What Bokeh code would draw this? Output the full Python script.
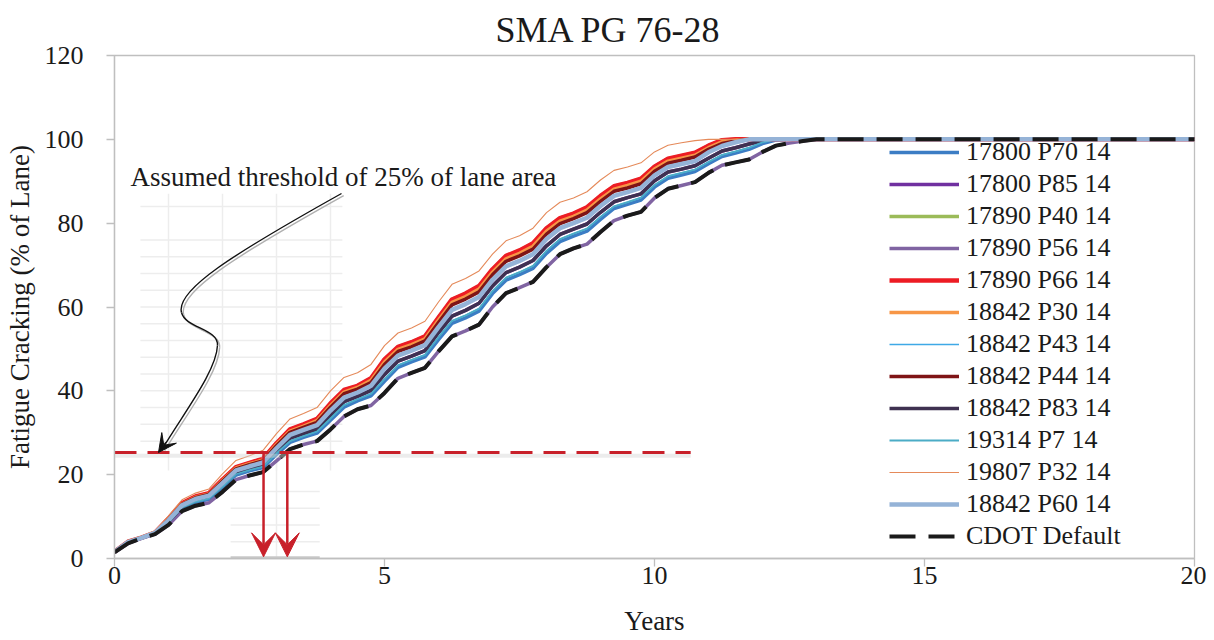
from bokeh.plotting import figure
from bokeh.models import Range1d, FixedTicker, Legend, LegendItem, Label, Arrow, VeeHead
from bokeh.embed import file_html
from bokeh.resources import INLINE

# ---------------- data ----------------
years = [i * 0.25 for i in range(53)] + [20.0]

cdot = [1.5, 3.6, 4.8, 5.8, 8.0, 11.3, 12.6, 13.3, 15.9, 18.8, 19.8, 20.6,
        23.3, 26.1, 27.2, 28.0, 30.8, 33.9, 35.6, 36.5, 39.5, 43.0, 44.3, 45.5,
        49.4, 53.0, 54.3, 55.8, 60.0, 63.3, 64.6, 66.0, 69.5, 72.6, 74.0, 75.0,
        77.9, 80.6, 81.8, 82.7, 86.0, 88.2, 89.0, 89.8, 92.0, 93.8, 94.5, 95.2,
        97.0, 98.5, 99.1, 99.6, 100, 100]
p66 = [1.6, 4.0, 5.0, 6.2, 9.5, 13.2, 14.8, 15.6, 18.8, 21.8, 22.8, 23.8,
       27.5, 30.8, 32.0, 33.3, 37.0, 40.2, 41.2, 43.0, 47.5, 50.5, 51.6, 53.0,
       57.5, 61.8, 63.2, 65.0, 69.0, 72.2, 73.5, 75.2, 78.8, 81.2, 82.3, 83.8,
       86.5, 88.8, 89.6, 90.6, 93.5, 95.4, 96.1, 96.8, 98.5, 99.8, 100, 100,
       100, 100, 100, 100, 100, 100]
p30 = [1.6, 4.0, 5.0, 6.2, 9.4, 13.0, 14.6, 15.4, 18.6, 21.6, 22.6, 23.5,
       27.2, 30.4, 31.6, 32.9, 36.5, 39.7, 40.8, 42.5, 46.9, 49.9, 51.0, 52.4,
       56.9, 61.1, 62.5, 64.3, 68.3, 71.5, 72.8, 74.5, 78.1, 80.5, 81.6, 83.1,
       85.8, 88.1, 89.0, 90.0, 92.9, 94.8, 95.5, 96.2, 98.0, 99.4, 99.8, 100,
       100, 100, 100, 100, 100, 100]
p44 = [1.6, 3.9, 5.0, 6.1, 9.3, 12.9, 14.5, 15.3, 18.4, 21.4, 22.4, 23.3,
       26.9, 30.1, 31.3, 32.5, 36.1, 39.3, 40.4, 42.0, 46.3, 49.4, 50.5, 51.9,
       56.3, 60.5, 61.9, 63.6, 67.7, 70.9, 72.2, 73.8, 77.4, 79.9, 81.1, 82.5,
       85.2, 87.6, 88.4, 89.4, 92.4, 94.3, 95.0, 95.8, 97.6, 99.0, 99.6, 100,
       100, 100, 100, 100, 100, 100]
p60 = [1.6, 3.9, 4.9, 6.1, 9.1, 12.7, 14.2, 15.0, 18.0, 21.0, 22.0, 22.9,
       26.3, 29.5, 30.7, 31.8, 35.3, 38.4, 39.6, 41.2, 45.3, 48.4, 49.6, 50.9,
       55.2, 59.3, 60.7, 62.4, 66.5, 69.7, 71.0, 72.6, 76.2, 78.8, 80.0, 81.3,
       84.1, 86.5, 87.4, 88.4, 91.4, 93.4, 94.1, 94.8, 96.9, 98.4, 99.3, 100,
       100, 100, 100, 100, 100, 100]
p83 = [1.6, 3.8, 4.9, 6.0, 8.8, 12.3, 13.8, 14.6, 17.5, 20.4, 21.4, 22.4,
       25.6, 28.7, 29.8, 30.9, 34.2, 37.4, 38.7, 40.1, 43.9, 47.1, 48.3, 49.6,
       53.9, 57.8, 59.2, 60.9, 65.0, 68.2, 69.5, 71.1, 74.6, 77.3, 78.6, 79.8,
       82.6, 85.1, 86.1, 87.0, 90.1, 92.2, 92.9, 93.7, 95.5, 97.2, 98.0, 98.9,
       99.7, 100, 100, 100, 100, 100]
p70 = [1.5, 3.7, 4.9, 5.9, 8.5, 12.0, 13.4, 14.1, 16.9, 19.9, 20.9, 21.7,
       24.8, 27.7, 28.9, 29.9, 33.0, 36.1, 37.6, 38.8, 42.3, 45.6, 46.9, 48.1,
       52.2, 56.1, 57.4, 59.0, 63.2, 66.4, 67.7, 69.2, 72.8, 75.6, 76.9, 78.1,
       80.9, 83.5, 84.5, 85.5, 88.6, 90.7, 91.5, 92.3, 94.2, 95.9, 96.7, 97.6,
       99.0, 99.8, 100, 100, 100, 100]
p43 = [1.5, 3.7, 4.9, 5.9, 8.6, 12.1, 13.5, 14.3, 17.1, 20.1, 21.1, 21.9,
       25.1, 28.0, 29.2, 30.3, 33.4, 36.6, 38.0, 39.3, 42.8, 46.1, 47.4, 48.6,
       52.8, 56.7, 58.0, 59.6, 63.8, 67.0, 68.3, 69.8, 73.4, 76.2, 77.5, 78.7,
       81.5, 84.0, 85.0, 86.1, 89.1, 91.2, 92.0, 92.8, 94.6, 96.3, 97.1, 98.0,
       99.3, 100, 100, 100, 100, 100]
p32 = [1.6, 4.1, 5.3, 6.6, 10.2, 14.0, 15.6, 16.6, 20.2, 23.4, 24.5, 25.8,
       29.8, 33.3, 34.6, 36.0, 40.0, 43.2, 44.3, 46.3, 50.8, 53.8, 55.0, 56.6,
       61.2, 65.4, 66.8, 68.6, 72.6, 75.8, 77.0, 78.8, 82.5, 85.0, 86.0, 87.5,
       90.3, 92.6, 93.4, 94.4, 97.0, 98.6, 99.2, 99.7, 100, 100, 100, 100,
       100, 100, 100, 100, 100, 100]
p85 = p83
p40 = p66
p56 = cdot
p7 = p43

series_names = ["17800 P70 14", "17800 P85 14", "17890 P40 14", "17890 P56 14",
                "17890 P66 14", "18842 P30 14", "18842 P43 14", "18842 P44 14",
                "18842 P83 14", "19314 P7 14", "19807 P32 14", "18842 P60 14",
                "CDOT Default"]
series_values = [p70, p85, p40, p56, p66, p30, p43, p44, p83, p7, p32, p60, cdot]

threshold = 25.3
threshold_end_year = 10.67
crossing_years = [2.76, 3.20]
x_ticks = [0, 5, 10, 15, 20]
y_ticks = [0, 20, 40, 60, 80, 100, 120]

# ---------------- styles ----------------
styles = [
    ("#3c7dc4", 3.5, "solid"),
    ("#7030a0", 3.5, "solid"),
    ("#9bbb59", 3.5, "solid"),
    ("#8064a2", 3.5, "solid"),
    ("#ed1c24", 4.5, "solid"),
    ("#f79646", 3.5, "solid"),
    ("#3fa9e6", 1.4, "solid"),
    ("#7f1416", 3.5, "solid"),
    ("#3f3151", 3.5, "solid"),
    ("#4bacc6", 1.8, "solid"),
    ("#e58a5a", 1.1, "solid"),
    ("#95b3d7", 4.5, "solid"),
    ("#1a1a1a", 4.0, "26 13"),
]

FONT = "Liberation Serif"

p = figure(width=1206, height=640, output_backend="svg", toolbar_location=None,
           x_range=Range1d(0, 20), y_range=Range1d(0, 120),
           min_border_left=114, min_border_right=12, min_border_top=55,
           min_border_bottom=82)
p.title.text = "SMA PG 76-28"
p.title.text_font = FONT
p.title.text_font_size = "36px"
p.title.text_font_style = "normal"
p.title.text_color = "#1a1a1a"
p.title.align = "left"
p.title.offset = 381
p.title.standoff = 12
p.xgrid.visible = False
p.ygrid.visible = False
p.outline_line_color = "#bfbfbf"
p.outline_line_width = 1.3
p.background_fill_color = "white"
p.border_fill_color = "white"

for ax in (p.xaxis[0], p.yaxis[0]):
    ax.axis_line_color = "#bfbfbf"
    ax.axis_line_width = 1.3
    ax.major_tick_line_color = "#bfbfbf"
    ax.major_tick_line_width = 1.3
    ax.major_tick_out = 8
    ax.major_tick_in = 0
    ax.minor_tick_line_color = None
    ax.major_label_text_font = FONT
    ax.major_label_text_font_size = "26px"
    ax.major_label_text_color = "#1a1a1a"
    ax.axis_label_text_font = FONT
    ax.axis_label_text_font_size = "27px"
    ax.axis_label_text_font_style = "normal"
    ax.axis_label_text_color = "#1a1a1a"

p.xaxis.ticker = FixedTicker(ticks=x_ticks)
p.yaxis.ticker = FixedTicker(ticks=y_ticks)
p.xaxis.axis_label = "Years"
p.yaxis.axis_label = "Fatigue Cracking (% of Lane)"
p.xaxis.major_label_standoff = 0
p.yaxis.major_label_standoff = 23
p.xaxis.axis_label_standoff = 19
p.yaxis.axis_label_standoff = 7

# faint grid pieces belonging to the pasted annotation
faint = "#ededed"
for yv in [28, 32, 36, 40, 44, 48, 52, 56, 60, 64, 68, 72, 76, 84]:
    p.line([0.48, 4.22], [yv, yv], line_color=faint, line_width=1.5)
for xv in [1, 2, 3, 4]:
    p.line([xv, xv], [21, 87], line_color=faint, line_width=1.5)
for yv in [4, 8, 12, 16]:
    p.line([2.15, 3.8], [yv, yv], line_color=faint, line_width=1.5)
p.line([3, 3], [0, 23], line_color=faint, line_width=1.5)
p.line([2.15, 3.8], [0.2, 0.2], line_color="#c8c8c8", line_width=3)

# curves
items = []
for name, vals, (col, w, dash) in zip(series_names, series_values, styles):
    r = p.line(years, vals, line_color=col, line_width=w, line_dash=dash,
               line_join="round", line_cap="butt")
    items.append(LegendItem(label=name, renderers=[r]))

# threshold line with soft shadow
p.line([0, threshold_end_year], [threshold - 0.8, threshold - 0.8],
       line_color="#d4d4d4", line_width=4, line_alpha=0.45)
p.line([0, threshold_end_year], [threshold, threshold], line_color="#c8202a",
       line_width=3, line_dash="22 11")

# arrows down to the x axis
for xc in crossing_years:
    p.add_layout(Arrow(end=VeeHead(size=24, fill_color="#c8202a", line_color="#c8202a",
                                   line_width=1),
                       x_start=xc, y_start=threshold, x_end=xc, y_end=0.4,
                       line_color="#c8202a", line_width=2.5))

# curved pointer to the threshold
cx = [[4.204, 2.148, 1.130, 1.241], [1.241, 1.315, 1.926, 1.907],
      [1.907, 1.889, 1.315, 0.889]]
cy = [[87.08, 72.29, 63.94, 58.69], [58.69, 54.87, 54.87, 50.81],
      [50.81, 44.85, 35.31, 26.24]]
for off_x, off_y, col, w in [(0.04, -0.5, "#b0b0b0", 1.4), (0.0, 0.0, "#111111", 1.4)]:
    for sx, sy in zip(cx, cy):
        p.bezier(x0=sx[0] + off_x, y0=sy[0] + off_y, x1=sx[3] + off_x, y1=sy[3] + off_y,
                 cx0=sx[1] + off_x, cy0=sy[1] + off_y, cx1=sx[2] + off_x, cy1=sy[2] + off_y,
                 line_color=col, line_width=w)
p.add_layout(Arrow(end=VeeHead(size=18, fill_color="#111111", line_color="#111111",
                               line_width=1),
                   x_start=0.95, y_start=27.7, x_end=0.815, y_end=25.3,
                   line_color="#111111", line_width=1.4))

p.add_layout(Label(x=0.296, y=90.9, text="Assumed threshold of 25% of lane area",
                   text_font=FONT, text_font_size="27px", text_color="#1a1a1a",
                   text_baseline="middle", text_align="left"))

legend = Legend(items=items, location=(769, 1))
legend.label_text_font = FONT
legend.label_text_font_size = "26px"
legend.label_text_color = "#1a1a1a"
legend.glyph_width = 70
legend.glyph_height = 30
legend.label_height = 30
legend.spacing = 2
legend.padding = 6
legend.margin = 0
legend.label_standoff = 7
legend.border_line_alpha = 0
legend.background_fill_alpha = 0
p.add_layout(legend)

open("out.html", "w").write(file_html(p, INLINE))
